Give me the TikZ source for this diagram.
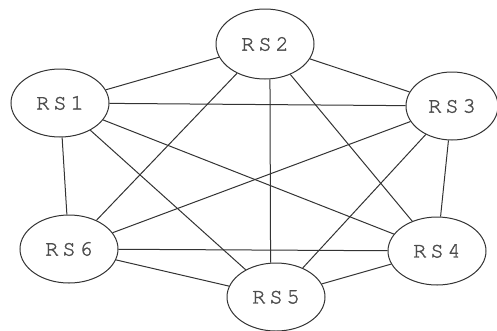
\documentclass[tikz,border=0pt]{standalone}
\usepackage{fontspec}
\usetikzlibrary{shapes.geometric}
\newfontfamily\rsfont[LetterSpace=18, FakeBold=1.5]{texgyrecursor-regular.otf}
\tikzset{
  station/.style={draw, ellipse, inner sep=0pt, minimum width=98pt,
    minimum height=68pt, font=\rsfont\fontsize{22}{22}\selectfont,
    text=black!70},
}
\begin{document}
\begin{tikzpicture}[x=1pt, y=-1pt, line width=1pt, draw=black!80]
            \useasboundingbox (0, 0) rectangle (497, 330);
            \node[station] (rs1) at (60, 103) {RS1};
            \node[station, minimum height=70pt] (rs2) at (265, 44) {RS2};
            \node[station, minimum width=92pt] (rs3) at (452, 106) {RS3};
            \node[station] (rs4) at (437, 251) {RS4};
            \node[station] (rs5) at (276, 297) {RS5};
            \node[station] (rs6) at (69, 249) {RS6};
            \draw (rs1) -- (rs2) (rs1) -- (rs3) (rs1) -- (rs4) (rs1) -- (rs5)
            (rs1) -- (rs6);
            \draw (rs2) -- (rs3) (rs2) -- (rs4) (rs2.-82) -- (rs5.99)
            (rs2) -- (rs6);
            \draw (rs3) -- (rs4) (rs3) -- (rs5) (rs3) -- (rs6);
            \draw (rs4) -- (rs5) (rs4) -- (rs6) (rs5) -- (rs6);
          \end{tikzpicture}
\end{document}
